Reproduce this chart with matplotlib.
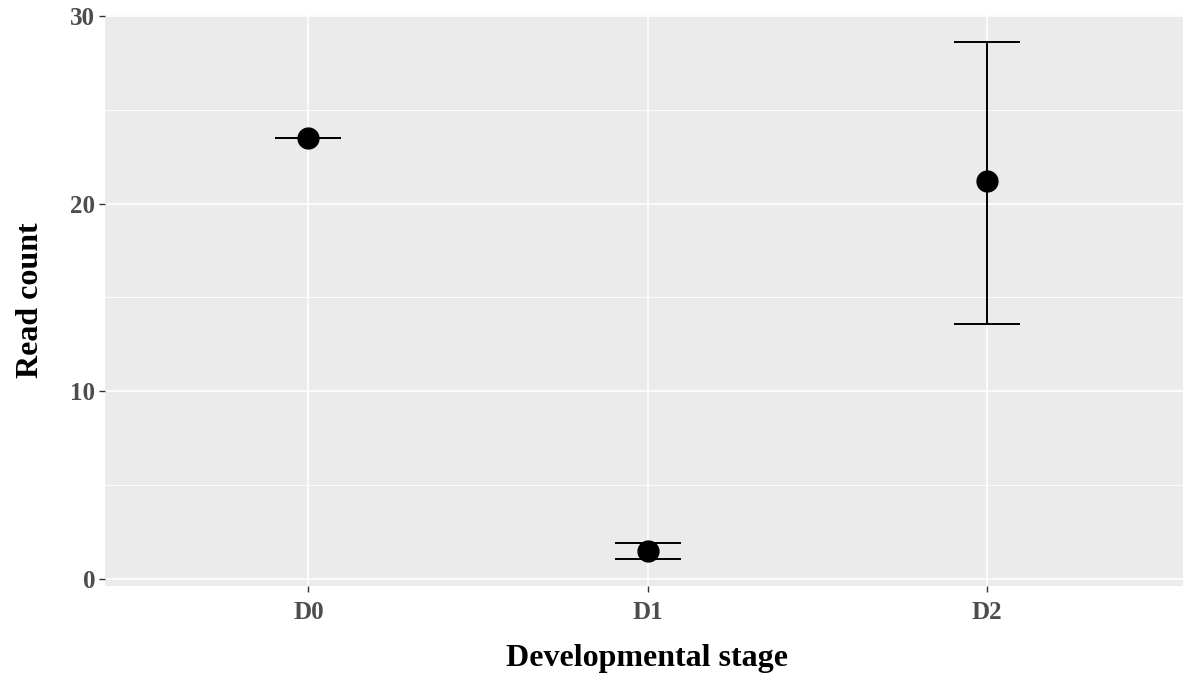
import matplotlib
matplotlib.use("Agg")
import matplotlib.pyplot as plt
from matplotlib.ticker import MultipleLocator

# Mean read count per developmental stage with lower/upper error limits
stages = ["D0", "D1", "D2"]
mean_count = [23.5, 1.5, 21.2]
lower = [23.5, 1.05, 13.6]
upper = [23.5, 1.9, 28.6]

serif = ["Liberation Serif", "DejaVu Serif"]

fig = plt.figure(figsize=(11.83, 6.78), dpi=100)
ax = fig.add_axes([105 / 1183, 1 - 586 / 678, 1085 / 1183, 571 / 678])
ax.set_facecolor("#EBEBEB")

x = list(range(len(stages)))
yerr = [[m - lo for m, lo in zip(mean_count, lower)],
        [hi - m for m, hi in zip(mean_count, upper)]]
ax.errorbar(x, mean_count, yerr=yerr, fmt="none", ecolor="black",
            elinewidth=1.4, capsize=24, capthick=1.4, zorder=3)
ax.plot(x, mean_count, "o", color="black", markersize=15, zorder=4)

ax.set_xlim(-0.6, 2.6)
ax.set_ylim(-0.37, 30.05)
ax.set_xticks(x)
ax.set_xticklabels(stages)
ax.yaxis.set_major_locator(MultipleLocator(10))
ax.yaxis.set_minor_locator(MultipleLocator(5))

ax.grid(which="major", color="white", linewidth=1.2)
ax.grid(which="minor", axis="y", color="white", linewidth=0.6)
ax.set_axisbelow(True)
for s in ax.spines.values():
    s.set_visible(False)

ax.tick_params(which="major", length=4, width=1, color="#333333",
               labelcolor="#4D4D4D", labelsize=18)
ax.tick_params(axis="x", which="major", pad=7)
ax.tick_params(axis="y", which="major", pad=3)
ax.tick_params(which="minor", length=0)
for lab in ax.get_xticklabels() + ax.get_yticklabels():
    lab.set_family(serif)
    lab.set_fontweight("bold")

ax.set_xlabel("Developmental stage", family=serif, fontweight="bold",
              fontsize=23, labelpad=14)
ax.set_ylabel("Read count", family=serif, fontweight="bold",
              fontsize=23, labelpad=18)

fig.savefig("out.png", dpi=100)
